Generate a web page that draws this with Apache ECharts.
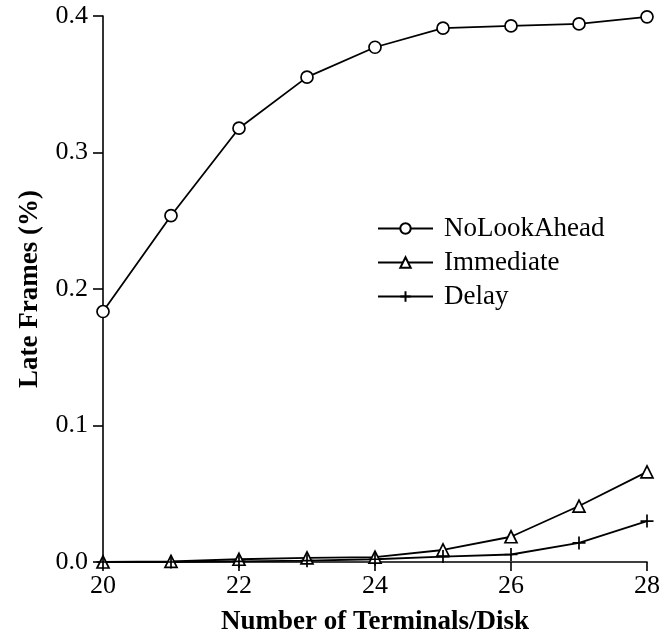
<!DOCTYPE html>
<html>
<head>
<meta charset="utf-8">
<script src="https://cdn.jsdelivr.net/npm/echarts@6/dist/echarts.min.js"></script>
<style>
  html, body { margin: 0; padding: 0; background: #fff; }
  #chart { width: 663px; height: 641px; }
</style>
</head>
<body>
<div id="chart"></div>
<script>
// Terminals per disk (x) and the share of late frames for each scheduling policy
var terminals = [20, 21, 22, 23, 24, 25, 26, 27, 28];
var noLookAhead = [0.1835, 0.2537, 0.3178, 0.3552, 0.3771, 0.3911, 0.3927, 0.3942, 0.3994];
var immediate  = [0.0, 0.0005, 0.002, 0.003, 0.0035, 0.0088, 0.0185, 0.041, 0.066];
var delay      = [0.0, 0.0, 0.0005, 0.001, 0.002, 0.004, 0.0055, 0.014, 0.030];
var yTicks = [0.0, 0.1, 0.2, 0.3, 0.4];
var xTicks = [20, 22, 24, 26, 28];

var serif = '"Liberation Serif", "Times New Roman", serif';

function pairs(ys) {
  return terminals.map(function (x, i) { return [x, ys[i]]; });
}

var plusPath = 'path://M5,0 L5,10 M0,5 L10,5';

var chart = echarts.init(document.getElementById('chart'), null, { renderer: 'canvas' });
chart.setOption({
  animation: false,
  backgroundColor: '#fff',
  grid: { left: 103, right: 13, top: 16, bottom: 79, containLabel: false },
  legend: {
    left: 377, top: 215, orient: 'vertical', padding: 0,
    itemWidth: 55, itemHeight: 13, itemGap: 7,
    textStyle: { fontFamily: serif, fontSize: 27, color: '#000', padding: [0, 0, 0, 6] },
    data: ['NoLookAhead', 'Immediate', 'Delay']
  },
  xAxis: {
    type: 'value', min: 20, max: 28, interval: 2,
    name: 'Number of Terminals/Disk', nameLocation: 'middle', nameGap: 47,
    nameTextStyle: { fontFamily: serif, fontSize: 27, fontWeight: 'bold', color: '#000' },
    axisLine: { lineStyle: { color: '#000', width: 1.6 } },
    axisTick: { inside: false, length: 9, lineStyle: { color: '#000', width: 1.6 } },
    axisLabel: { fontFamily: serif, fontSize: 26, color: '#000', margin: 11,
      formatter: function (v) { return xTicks.indexOf(v) >= 0 ? String(v) : ''; } },
    splitLine: { show: false }
  },
  yAxis: {
    type: 'value', min: 0, max: 0.4, interval: 0.1,
    name: 'Late Frames (%)', nameLocation: 'middle', nameGap: 59, nameRotate: 90,
    nameTextStyle: { fontFamily: serif, fontSize: 27, fontWeight: 'bold', color: '#000' },
    axisLine: { show: true, lineStyle: { color: '#000', width: 1.6 } },
    axisTick: { show: true, inside: false, length: 10, lineStyle: { color: '#000', width: 1.6 } },
    axisLabel: { fontFamily: serif, fontSize: 26, color: '#000', margin: 15,
      formatter: function (v) {
        var t = yTicks.filter(function (k) { return Math.abs(k - v) < 1e-9; });
        return t.length ? t[0].toFixed(1) : '';
      } },
    splitLine: { show: false }
  },
  series: [
    {
      name: 'NoLookAhead', type: 'line', data: pairs(noLookAhead),
      symbol: 'circle', symbolSize: 12, showAllSymbol: true,
      lineStyle: { color: '#000', width: 1.8 },
      itemStyle: { color: '#fff', borderColor: '#000', borderWidth: 1.7 },
      z: 3
    },
    {
      name: 'Immediate', type: 'line', data: pairs(immediate),
      symbol: 'triangle', symbolSize: 12, showAllSymbol: true,
      lineStyle: { color: '#000', width: 1.8 },
      itemStyle: { color: '#fff', borderColor: '#000', borderWidth: 1.7 },
      z: 2
    },
    {
      name: 'Delay', type: 'line', data: pairs(delay),
      symbol: plusPath, symbolSize: 13, showAllSymbol: true,
      lineStyle: { color: '#000', width: 1.8 },
      itemStyle: { color: '#000', borderColor: '#000', borderWidth: 1.7 },
      z: 2
    }
  ]
});
</script>
</body>
</html>
